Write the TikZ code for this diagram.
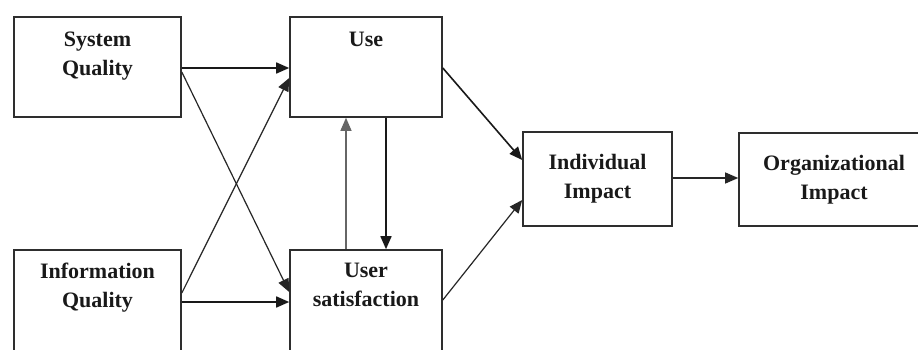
\documentclass[tikz,border=0pt]{standalone}
\usepackage{fontspec}
\setmainfont{Liberation Serif}
\usetikzlibrary{arrows.meta}
\definecolor{boxline}{HTML}{2E2E2E}
\begin{document}
\begin{tikzpicture}[x=1pt,y=-1pt,
  box/.style={draw=boxline,line width=1.6pt,inner sep=0pt,rectangle},
  lbl/.style={font=\fontsize{22}{29}\selectfont\bfseries,align=center,inner sep=0pt,text=black!90},
  arr/.style={draw=black!90,line width=1.6pt,-{Triangle[length=13pt,width=11pt]}},
  thinarr/.style={draw=black!85,line width=1.2pt,-{Triangle[length=13pt,width=11pt]}}]
\useasboundingbox (0,0) rectangle (918,350);
\clip (0,0) rectangle (918,350);
\fill[white] (0,0) rectangle (918,350);
% boxes
\node[box,minimum width=167pt,minimum height=100pt] (sq) at (97.5,67) {};
\node[box,minimum width=152pt,minimum height=100pt] (use) at (366,67) {};
\node[box,minimum width=167pt,minimum height=130pt] (iq) at (97.5,315) {};
\node[box,minimum width=152pt,minimum height=130pt] (us) at (366,315) {};
\node[box,minimum width=149pt,minimum height=94pt] (ii) at (597.5,179) {};
\node[box,minimum width=200pt,minimum height=93pt] (oi) at (839,179.5) {};
% labels
\node[lbl,anchor=north] (sqt) at ([yshift=-16pt]sq.north) {System\\Quality};
\node[lbl,anchor=north] (uset) at ([yshift=-16pt]use.north) {Use};
\node[lbl,anchor=north] (iqt) at ([yshift=-14pt]iq.north) {Information\\Quality};
\node[lbl,anchor=north] (ust) at ([yshift=-14pt]us.north) {User\\satisfaction};
\node[lbl] (iit) at (ii.center) {Individual\\Impact};
\node[lbl] (oit) at ([xshift=-5pt]oi.center) {Organizational\\Impact};
% connectors
\draw[arr] (sq.east |- 0,68) -- (use.west |- 0,68);
\draw[thinarr] (sq.east |- 0,72) -- (us.west |- 0,292);
\draw[thinarr] (iq.east |- 0,293) -- (use.west |- 0,78);
\draw[arr] (iq.east |- 0,302) -- (us.west |- 0,302);
\draw[arr] (use.south -| 386,0) -- (us.north -| 386,0);
\draw[thinarr,draw=black!60] (us.north -| 346,0) -- (use.south -| 346,0);
\draw[arr] (use.east |- 0,68) -- (ii.west |- 0,160);
\draw[thinarr] (us.east |- 0,300) -- (ii.west |- 0,200);
\draw[thinarr] (ii.east |- 0,178) -- (oi.west |- 0,178);
\end{tikzpicture}
\end{document}
